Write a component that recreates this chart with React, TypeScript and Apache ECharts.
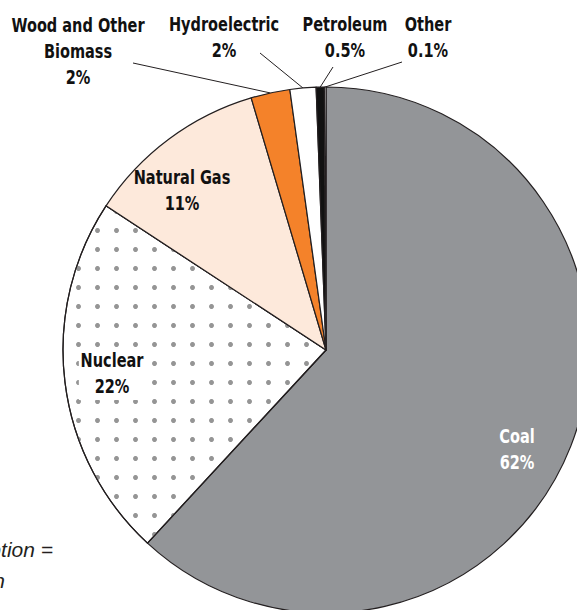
import React, { useEffect, useRef } from "react";
import * as echarts from "echarts";

// ---- data ----
const categories = [
  "Coal",
  "Nuclear",
  "Natural Gas",
  "Wood and Other\nBiomass",
  "Hydroelectric",
  "Petroleum",
  "Other",
];
const shares = [62, 22.4, 11.2, 2.4, 1.6, 0.5, 0.1];
const sliceColors = ["#939598", "#ffffff", "#fde9db", "#f4822a", "#ffffff", "#111111", "#ffffff"];
const labelColors = ["#ffffff", "#111111", "#111111", "#111111", "#111111", "#111111", "#111111"];
const footnoteLines = ["Total Energy Consumption =", "1,462 Trillion"];

// ---- layout ----
const CX = 326;
const CY = 350;
const R = 263;
const labelAnchors: number[][] = [
  [517, 450],
  [112, 374],
  [182, 191],
  [78, 52],
  [224, 38],
  [345, 38],
  [428, 38],
];
const leaderStarts: (number[] | null)[] = [null, null, null, [133, 63], [260, 53], [333, 67], [402, 62]];
const labelBoxes = [null, "#ffffff", null, null, null, null, null];

const FONT = "'DejaVu Sans Condensed', 'DejaVu Sans', sans-serif";
const SQUEEZE = 0.85;

const fmt = (v: number) => (v >= 1 ? `${Math.round(v)}%` : `${v}%`);

export default function App() {
  const ref = useRef<HTMLDivElement>(null);
  useEffect(() => {
    if (!ref.current) return;
    const chart = echarts.init(ref.current, undefined, { renderer: "svg" });
    const total = shares.reduce((a, b) => a + b, 0);
    let acc = 0;
    const midAngles = shares.map((v) => {
      const mid = ((acc + v / 2) / total) * 2 * Math.PI;
      acc += v;
      return mid;
    });

    const data = categories.map((name, i) => ({
      name,
      value: shares[i],
      itemStyle: {
        color: sliceColors[i],
        ...(name === "Nuclear"
          ? {
              decal: {
                symbol: "circle",
                symbolSize: 1,
                dashArrayX: [4.2, 13.8],
                dashArrayY: [4.2, 13.8],
                color: "#959595",
              },
            }
          : {}),
      },
    }));

    const labelGraphics: any[] = [];
    categories.forEach((name, i) => {
      const s = leaderStarts[i];
      if (s) {
        const th = midAngles[i];
        labelGraphics.push({
          type: "line",
          silent: true,
          shape: { x1: s[0], y1: s[1], x2: CX + R * Math.sin(th), y2: CY - R * Math.cos(th) },
          style: { stroke: "#231f20", lineWidth: 1 },
        });
      }
    });
    categories.forEach((name, i) => {
      const [x, y] = labelAnchors[i];
      labelGraphics.push({
        type: "text",
        x,
        y,
        scaleX: SQUEEZE,
        silent: true,
        z: 10,
        style: {
          text: `${name}\n${fmt(shares[i])}`,
          x: 0,
          y: 0,
          align: "center",
          verticalAlign: "middle",
          fontFamily: FONT,
          fontWeight: "bold",
          fontSize: 19,
          lineHeight: 26,
          fill: labelColors[i],
          ...(labelBoxes[i] ? { backgroundColor: labelBoxes[i], padding: [0, 2] } : {}),
        },
      });
    });

    chart.setOption({
      animation: false,
      backgroundColor: "#ffffff",
      series: [
        {
          type: "pie",
          center: [CX, CY],
          radius: [0, R],
          startAngle: 90,
          clockwise: true,
          silent: true,
          itemStyle: { borderColor: "#231f20", borderWidth: 1.2 },
          label: { show: false },
          labelLine: { show: false },
          data,
        },
      ],
      graphic: [
        ...labelGraphics,
        {
          type: "text",
          style: {
            text: footnoteLines[0],
            x: 53,
            y: 549,
            align: "right",
            verticalAlign: "middle",
            fontFamily: "'Liberation Sans', sans-serif",
            fontStyle: "italic",
            fontSize: 21,
            fill: "#231f20",
          },
        },
        {
          type: "text",
          style: {
            text: footnoteLines[1],
            x: 5,
            y: 580,
            align: "right",
            verticalAlign: "middle",
            fontFamily: "'Liberation Sans', sans-serif",
            fontStyle: "italic",
            fontSize: 21,
            fill: "#231f20",
          },
        },
      ],
    });
    return () => chart.dispose();
  }, []);
  return (
    <div
      ref={ref}
      style={{ position: "fixed", left: 0, top: 0, width: 577, height: 610, background: "#fff" }}
    />
  );
}
